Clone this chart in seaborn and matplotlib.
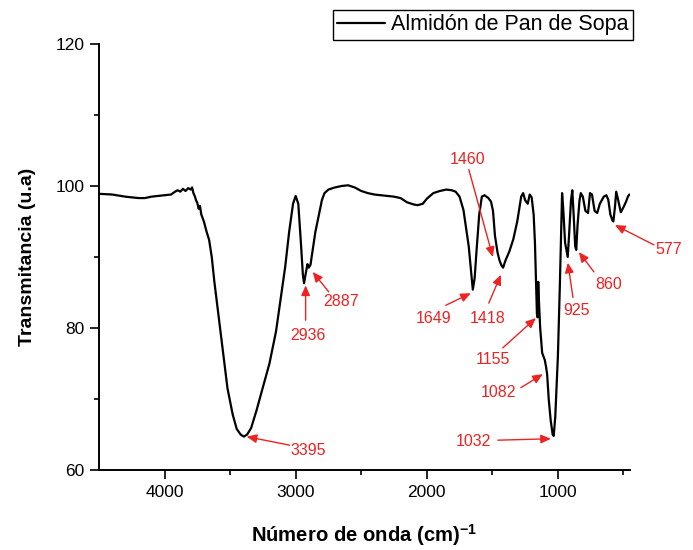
import matplotlib
matplotlib.use("Agg")
import matplotlib.pyplot as plt
import seaborn as sns
import pandas as pd

wavenumber = [4500, 4400, 4300, 4200, 4150, 4100, 4050, 4000, 3950, 3920, 3900, 3880,
              3860, 3840, 3820, 3800, 3790, 3780, 3770, 3760, 3750, 3740, 3730, 3720,
              3700, 3680, 3660, 3640, 3620, 3600, 3560, 3520, 3480, 3450, 3420, 3395,
              3370, 3340, 3300, 3260, 3200, 3150, 3100, 3080, 3050, 3020, 3000, 2980,
              2960, 2945, 2936, 2925, 2910, 2900, 2887, 2870, 2850, 2830, 2800, 2780,
              2750, 2700, 2650, 2600, 2550, 2500, 2450, 2400, 2350, 2300, 2250, 2200,
              2150, 2100, 2070, 2030, 2000, 1950, 1900, 1850, 1810, 1780, 1750, 1720,
              1700, 1680, 1665, 1649, 1635, 1620, 1600, 1580, 1560, 1530, 1510, 1495,
              1480, 1460, 1445, 1430, 1418, 1400, 1370, 1340, 1310, 1280, 1265, 1250,
              1230, 1215, 1200, 1185, 1175, 1165, 1160, 1155, 1150, 1145, 1135, 1120,
              1100, 1090, 1082, 1070, 1055, 1040, 1032, 1020, 1000, 985, 975, 968,
              960, 945, 930, 925, 915, 900, 890, 880, 868, 860, 850, 835,
              825, 810, 790, 770, 755, 740, 720, 700, 680, 650, 630, 615,
              600, 585, 577, 565, 555, 540, 520, 500, 480, 466, 455]
transmittance = [98.9, 98.8, 98.5, 98.3, 98.3, 98.5, 98.6, 98.7, 98.8, 99.2, 99.4, 99.2,
                 99.6, 99.3, 99.7, 99.5, 99.8, 99.0, 98.6, 98.0, 97.6, 96.8, 97.2, 96.0,
                 95.0, 93.6, 92.4, 90.0, 86.5, 83.5, 77.5, 71.5, 67.8, 65.8, 65.0, 64.7,
                 65.0, 65.9, 68.3, 71.0, 75.0, 79.5, 86.0, 88.6, 93.5, 97.5, 98.6, 97.5,
                 92.0, 87.5, 86.3, 87.5, 89.0, 88.5, 88.9, 91.0, 93.5, 95.3, 98.0, 99.0,
                 99.5, 99.8, 100.0, 100.1, 99.8, 99.3, 99.0, 98.8, 98.7, 98.6, 98.5, 98.3,
                 97.7, 97.4, 97.3, 97.5, 98.2, 99.0, 99.3, 99.5, 99.4, 99.2, 98.5, 96.6,
                 94.0, 91.5, 88.5, 85.4, 87.0, 91.0, 96.0, 98.5, 98.7, 98.3, 97.8, 96.5,
                 93.0, 90.6, 89.5, 88.8, 88.5, 89.5, 90.8, 92.5, 95.0, 98.5, 99.0, 98.0,
                 97.5, 98.8, 98.4, 96.0, 92.0, 85.0, 82.0, 81.5, 86.5, 84.0, 80.0, 76.5,
                 75.5, 74.5, 73.5, 70.0, 67.0, 65.0, 64.8, 67.5, 76.0, 86.0, 94.0, 99.0,
                 97.0, 92.0, 90.5, 90.0, 93.0, 98.0, 99.4, 96.0, 91.5, 91.0, 94.5, 98.0,
                 99.0, 98.5, 96.5, 96.2, 99.0, 98.8, 96.5, 96.2, 97.5, 98.5, 98.7, 98.0,
                 96.0, 95.2, 95.0, 97.0, 99.2, 98.0, 96.3, 97.0, 97.8, 98.5, 98.8]

series_name = "Almidón de Pan de Sopa"

# annotations: label, text position, arrow tail, arrow head
ann_labels = ["3395", "2936", "2887", "1649", "1418", "1460", "1155", "1082", "1032", "925", "860", "577"]
ann_text_xy = [(2908, 62.8), (2908, 79.0), (2656, 83.7), (1946, 81.4), (1534, 81.4), (1687, 103.7),
               (1496, 75.5), (1450, 70.9), (1641, 64.0), (855, 82.4), (610, 86.1), (152, 91.0)]
ann_tail = [(3046, 63.5), (2924, 81.1), (2748, 85.1), (1855, 83.2), (1527, 83.5), (1679, 102.3),
            (1420, 77.2), (1282, 71.6), (1458, 64.2), (885, 84.3), (725, 87.9), (267, 91.7)]
ann_head = [(3374, 64.7), (2924, 86.0), (2870, 87.9), (1664, 84.9), (1435, 87.5), (1496, 90.0),
            (1168, 81.4), (1115, 73.5), (1053, 64.4), (924, 89.2), (840, 90.7), (565, 94.5)]

x_ticks = [4000, 3000, 2000, 1000]
y_ticks = [60, 80, 100, 120]

sns.set_theme(style="ticks")
plt.rcParams["font.family"] = ["Liberation Sans", "DejaVu Sans"]
plt.rcParams["text.color"] = "black"
plt.rcParams["axes.labelcolor"] = "black"
plt.rcParams["mathtext.fontset"] = "custom"
plt.rcParams["mathtext.rm"] = "Liberation Sans:bold"
plt.rcParams["mathtext.bf"] = "Liberation Sans:bold"
plt.rcParams["mathtext.default"] = "bf"

df = pd.DataFrame({"w": wavenumber, "t": transmittance, "s": series_name})

fig = plt.figure(figsize=(6.93, 5.5), dpi=100)
ax = fig.add_axes([99 / 693, 1 - 470 / 550, (630 - 99) / 693, (470 - 44) / 550])

sns.lineplot(data=df, x="w", y="t", hue="s", palette=["black"], linewidth=1.6,
             ax=ax, sort=False, estimator=None)

ax.set_xlim(4500, 450)
ax.set_ylim(60, 120)
ax.set_xticks(x_ticks)
ax.set_yticks(y_ticks)
ax.set_xticks([3500, 2500, 1500, 500], minor=True)
ax.set_yticks([70, 90, 110], minor=True)
ax.tick_params(axis="both", which="major", direction="out", length=6.5, width=1.2,
               labelsize=12.5, colors="black", pad=4)
ax.tick_params(axis="both", which="minor", direction="out", length=3.5, width=1.2, colors="black")
for s in ["top", "right"]:
    ax.spines[s].set_visible(False)
for s in ["left", "bottom"]:
    ax.spines[s].set_linewidth(1.4)
    ax.spines[s].set_color("black")

ax.set_xlabel("Número de onda (cm)$^{-1}$", fontsize=14.6, fontweight="bold", labelpad=16)
ax.set_ylabel("Transmitancia (u.a)", fontsize=14, fontweight="bold", labelpad=14)

red = "#ee2222"
for lab, txy, tail, head in zip(ann_labels, ann_text_xy, ann_tail, ann_head):
    ax.text(txy[0], txy[1], lab, color=red, fontsize=11.5, ha="center", va="center", clip_on=False)
    ax.annotate("", xy=head, xytext=tail,
                arrowprops=dict(arrowstyle="-|>,head_length=0.5,head_width=0.22", color=red,
                                lw=1.0, shrinkA=0, shrinkB=0), annotation_clip=False)

handles, labels = ax.get_legend_handles_labels()
leg = ax.legend(handles, labels, loc="upper left", bbox_to_anchor=(333 / 693, 1 - 10 / 550),
                bbox_transform=fig.transFigure, borderaxespad=0, fancybox=False, frameon=True,
                edgecolor="black", fontsize=15.5, handlelength=2.2, handletextpad=0.3,
                borderpad=0.2, framealpha=1, labelcolor="black")
leg.get_frame().set_linewidth(1.0)

fig.savefig("out.png", dpi=100)
